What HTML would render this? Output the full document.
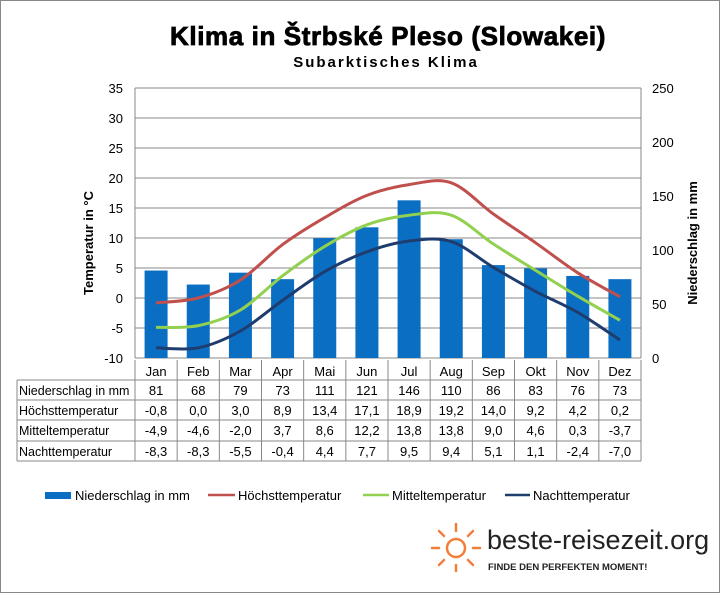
<!DOCTYPE html>
<html><head><meta charset="utf-8"><style>
body{margin:0;background:#fff;}
svg text{font-family:"Liberation Sans",Arial,sans-serif;}
</style></head><body>
<svg id="s" width="720" height="593" xmlns="http://www.w3.org/2000/svg">
<rect x="0.5" y="0.5" width="719" height="592" fill="#fff" stroke="#888"/>
<text x="388" y="45" text-anchor="middle" font-size="26" font-weight="bold" stroke="#000" stroke-width="0.8" letter-spacing="0.6">Klima in Štrbské Pleso (Slowakei)</text>
<text x="386" y="67" text-anchor="middle" font-size="15" font-weight="bold" letter-spacing="2">Subarktisches Klima</text>
<g id="grid" stroke="#888" stroke-width="1"></g>
<g id="bars" fill="#0a6fc2"></g>
<g id="lines" fill="none" stroke-width="3"></g>
<g id="axl" font-size="13"></g>
<text transform="translate(93,243) rotate(-90)" text-anchor="middle" font-size="13" font-weight="bold">Temperatur in °C</text>
<text transform="translate(697,243) rotate(-90)" text-anchor="middle" font-size="13" font-weight="bold">Niederschlag in mm</text>
<g id="tbl" font-size="13"></g>
<g font-size="13">
<rect x="45" y="492" width="26" height="7" fill="#0a6fc2"/><text x="75" y="500">Niederschlag in mm</text>
<line x1="208" y1="495" x2="235" y2="495" stroke="#c0504d" stroke-width="2.5"/><text x="238" y="500">Höchsttemperatur</text>
<line x1="363" y1="495" x2="389" y2="495" stroke="#92d050" stroke-width="2.5"/><text x="392" y="500">Mitteltemperatur</text>
<line x1="505" y1="495" x2="530" y2="495" stroke="#1f3c6e" stroke-width="2.5"/><text x="533" y="500">Nachttemperatur</text>
</g>
<g stroke="#f07f3c" stroke-width="2.5" fill="none" stroke-linecap="round">
<circle cx="456" cy="548" r="9"/>
<path d="M456 531v-7M456 565v6M439 548h-7M473 548h7M444 536l-5-5M468 536l5-5M444 560l-5 5M468 560l5 5"/>
</g>
<text x="487" y="549" font-size="27" fill="#222">beste-reisezeit.org</text>
<text x="488" y="570" font-size="9.5" font-weight="bold" fill="#222">FINDE DEN PERFEKTEN MOMENT!</text>
</svg>
<script>
const NS="http://www.w3.org/2000/svg";
function el(p,t,a,txt){const e=document.createElementNS(NS,t);for(const k in a)e.setAttribute(k,a[k]);if(txt!==undefined)e.textContent=txt;document.getElementById(p).appendChild(e);return e;}
const L=135,R=641,T=88,B=358,W=(R-L)/12;
for(let v=-10;v<=35;v+=5){const y=B-(v+10)*6;el("grid","line",{x1:L,x2:R,y1:y,y2:y});el("axl","text",{x:123,y:y+5,"text-anchor":"end"},v);}
for(let v=0;v<=250;v+=50){const y=B-v*1.08;el("axl","text",{x:652,y:y+5},v);}
el("grid","line",{x1:L,x2:L,y1:T,y2:B});el("grid","line",{x1:R,x2:R,y1:T,y2:B});
const m=["Jan","Feb","Mar","Apr","Mai","Jun","Jul","Aug","Sep","Okt","Nov","Dez"];
const rain=[81,68,79,73,111,121,146,110,86,83,76,73];
const hi=[-0.8,0,3,8.9,13.4,17.1,18.9,19.2,14,9.2,4.2,0.2];
const mi=[-4.9,-4.6,-2,3.7,8.6,12.2,13.8,13.8,9,4.6,0.3,-3.7];
const lo=[-8.3,-8.3,-5.5,-0.4,4.4,7.7,9.5,9.4,5.1,1.1,-2.4,-7];
const cx=i=>L+W*(i+0.5);
rain.forEach((r,i)=>el("bars","rect",{x:cx(i)-11.5,y:B-r*1.08,width:23,height:r*1.08}));
function path(d,c){const p=d.map((v,i)=>[cx(i),B-(v+10)*6]);let s="M"+p[0];for(let i=0;i<p.length-1;i++){const p0=p[i-1]||p[i],p1=p[i],p2=p[i+1],p3=p[i+2]||p2;const c1=[p1[0]+(p2[0]-p0[0])/6,p1[1]+(p2[1]-p0[1])/6],c2=[p2[0]-(p3[0]-p1[0])/6,p2[1]-(p3[1]-p1[1])/6];s+=" C"+c1+" "+c2+" "+p2;}el("lines","path",{d:s,stroke:c});}
path(hi,"#c0504d");path(mi,"#92d050");path(lo,"#1f3c6e");
const fmt=v=>v.toFixed(1).replace(".",",");
const rows=[["Niederschlag in mm",rain.map(String)],["Höchsttemperatur",hi.map(fmt)],["Mitteltemperatur",mi.map(fmt)],["Nachttemperatur",lo.map(fmt)]];
const ys=[360,380,400,420,441,461];
el("tbl","g",{id:"tg",stroke:"#888",fill:"none"});
for(let k=0;k<=12;k++){el("tg","line",{x1:L+W*k,x2:L+W*k,y1:360,y2:461});}
el("tg","line",{x1:17,x2:17,y1:380,y2:461});
for(let j=1;j<6;j++)el("tg","line",{x1:17,x2:R,y1:ys[j],y2:ys[j]});
m.forEach((t,i)=>el("tbl","text",{x:cx(i),y:376,"text-anchor":"middle"},t));
rows.forEach((r,j)=>{const y=ys[j+1]+15;el("tbl","text",{x:19,y:y,"font-size":12.5},r[0]);r[1].forEach((t,i)=>el("tbl","text",{x:cx(i),y:y,"text-anchor":"middle"},t));});
</script>
</body></html>
